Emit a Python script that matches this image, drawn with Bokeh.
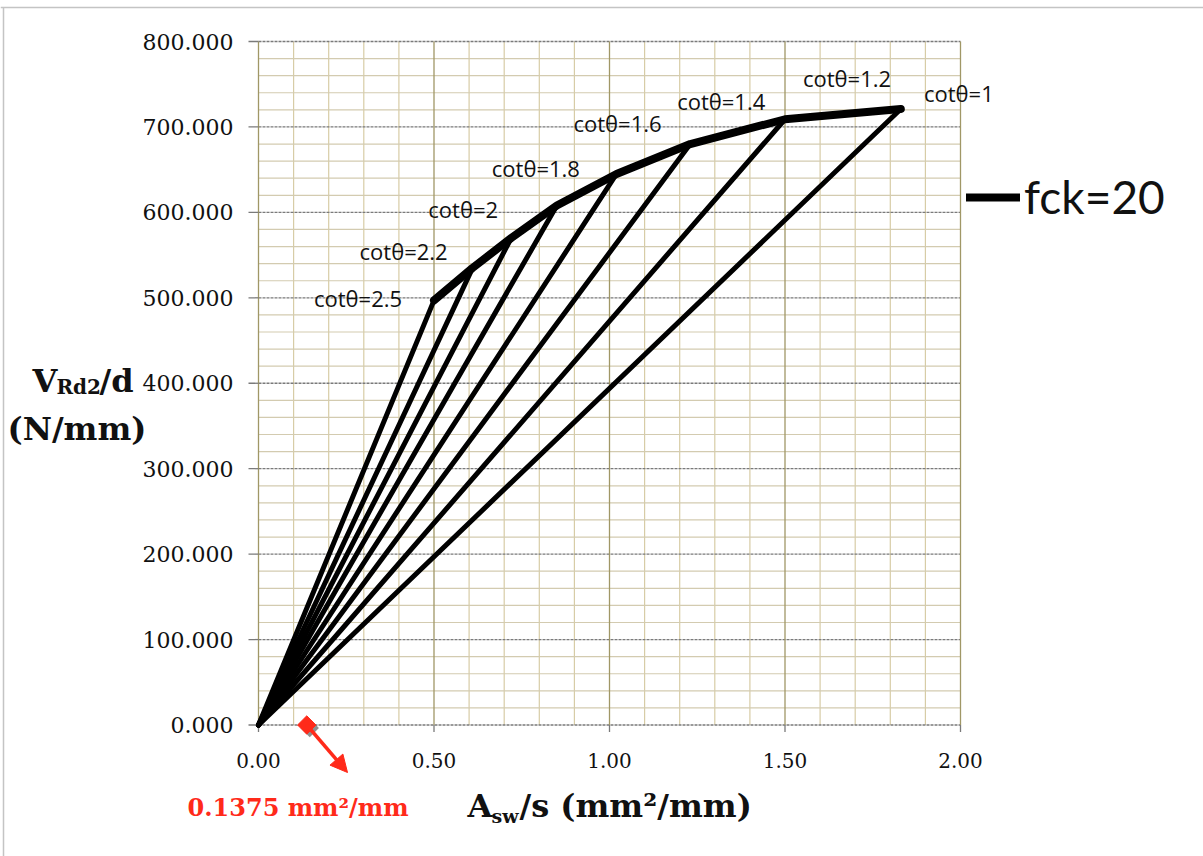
from bokeh.plotting import figure
from bokeh.models import Range1d, Label, Arrow, NormalHead, Legend, LegendItem
from bokeh.core.properties import value
from bokeh.embed import file_html
from bokeh.resources import INLINE

# ---------------- data ----------------
cot_labels = ["cotθ=2.5", "cotθ=2.2", "cotθ=2", "cotθ=1.8",
              "cotθ=1.6", "cotθ=1.4", "cotθ=1.2", "cotθ=1"]
asw_s = [0.50, 0.61, 0.72, 0.85, 1.02, 1.23, 1.50, 1.83]      # mm2/mm
vrd2_d = [497, 535, 570, 608, 645, 680, 709, 721]              # N/mm
series_name = "fck=20"
marker_x = 0.1375
marker_y = 0.0
marker_text = "0.1375 mm²/mm"
x_ticks = [0.0, 0.5, 1.0, 1.5, 2.0]
y_ticks = [0, 100, 200, 300, 400, 500, 600, 700, 800]
x_tick_labels = ["0.00", "0.50", "1.00", "1.50", "2.00"]
y_tick_labels = ["0.000", "100.000", "200.000", "300.000", "400.000",
                 "500.000", "600.000", "700.000", "800.000"]
n_minor = 5

# ---------------- layout (pixel frame of the plot area) ----------------
W, H = 1203, 856
PX0, PX1 = 258, 960        # x = 0 .. 2
PY0, PY1 = 724.5, 41       # y = 0 .. 800
xmin, xmax = x_ticks[0], x_ticks[-1]
ymin, ymax = y_ticks[0], y_ticks[-1]
sx = (PX1 - PX0) / (xmax - xmin)
sy = (PY0 - PY1) / (ymax - ymin)


def dx(px):
    return xmin + (px - PX0) / sx


def dy(py):
    return ymin + (PY0 - py) / sy


label_offsets = [(-76, 2), (-69, 17), (-48, 29), (-21, 38),
                 (1, 51), (31, 43), (62, 41), (58, 16)]

p = figure(width=W, height=H, x_range=Range1d(dx(0), dx(W)), y_range=Range1d(dy(H), dy(0)),
           output_backend="svg", toolbar_location=None,
           x_axis_location=None, y_axis_location=None, min_border=0)
p.grid.visible = False
p.outline_line_color = None
p.background_fill_color = "white"
p.border_fill_color = "white"

# outer frame of the picture (top and left edges)
p.segment(x0=[dx(0)], y0=[dy(7)], x1=[dx(W)], y1=[dy(7)], line_color="#c4c4c4", line_width=1.5)
p.segment(x0=[dx(3)], y0=[dy(7)], x1=[dx(3)], y1=[dy(H)], line_color="#c4c4c4", line_width=1.5)

# minor grid
xstep = (x_ticks[1] - x_ticks[0]) / n_minor
ystep = (y_ticks[1] - y_ticks[0]) / n_minor
x_minor = [xmin + i * xstep for i in range(int(round((xmax - xmin) / xstep)) + 1) if i % n_minor]
y_minor = [ymin + i * ystep for i in range(int(round((ymax - ymin) / ystep)) + 1) if i % n_minor]
p.segment(x0=x_minor, y0=ymin, x1=x_minor, y1=ymax, line_color="#d7cca6", line_width=1.2)
p.segment(x0=xmin, y0=y_minor, x1=xmax, y1=y_minor, line_color="#d3cbb0", line_width=1.2)
# major grid
p.segment(x0=xmin, y0=y_ticks, x1=xmax, y1=y_ticks, line_color="#7a7a7a", line_width=1.3,
          line_dash="3 1")
p.segment(x0=x_ticks, y0=ymin, x1=x_ticks, y1=ymax, line_color="#a09766", line_width=1.3)
# tick marks
p.segment(x0=dx(PX0 - 10), y0=y_ticks, x1=xmin, y1=y_ticks, line_color="#7a7a7a", line_width=1.3)
p.segment(x0=x_ticks, y0=ymin, x1=x_ticks, y1=dy(PY0 + 7), line_color="#7a7a7a", line_width=1.3)

# tick labels
p.text(x=dx(PX0 - 25), y=y_ticks, text=y_tick_labels, text_align="right", text_baseline="middle",
       text_font=value("DejaVu Serif"), text_font_size="22px", text_color="#111111")
p.text(x=x_ticks, y=dy(PY0 + 35), text=x_tick_labels, text_align="center", text_baseline="middle",
       text_font=value("DejaVu Serif"), text_font_size="20px", text_color="#111111")

# radial lines from origin to each cot point, and the envelope
xs = [[0, x] for x in asw_s]
ys = [[0, y] for y in vrd2_d]
p.multi_line(xs, ys, line_color="black", line_width=5, line_cap="round", line_join="round")
curve = p.line(asw_s, vrd2_d, line_color="black", line_width=8, line_cap="round", line_join="round")

for lab, x, y, (ox, oy) in zip(cot_labels, asw_s, vrd2_d, label_offsets):
    p.add_layout(Label(x=x, y=y, text=lab, x_offset=ox, y_offset=oy, text_align="center",
                       text_baseline="middle", text_font="Open Sans", text_font_size="22px",
                       text_color="#111111"))

# legend
legend = Legend(items=[LegendItem(label=series_name, renderers=[curve])],
                location=(966, 856 - 224), padding=0, margin=0, glyph_width=54, glyph_height=40,
                label_standoff=4, border_line_color=None, background_fill_alpha=0,
                label_text_font="Lato", label_text_font_size="46px", label_text_color="#111111")
p.add_layout(legend, "center")

# axis titles
bold = "DejaVu Serif"
ink = "#111111"
p.add_layout(Label(x=dx(32), y=dy(380), text="V", text_font=bold, text_font_style="bold",
                   text_font_size="32px", text_baseline="alphabetic", text_color=ink))
p.add_layout(Label(x=dx(56), y=dy(386), text="Rd2", text_font=bold, text_font_style="bold",
                   text_font_size="20px", text_baseline="alphabetic", text_color=ink))
p.add_layout(Label(x=dx(99), y=dy(380), text="/d", text_font=bold, text_font_style="bold",
                   text_font_size="32px", text_baseline="alphabetic", text_color=ink))
p.add_layout(Label(x=dx(7), y=dy(428), text="(N/mm)", text_font=bold, text_font_style="bold",
                   text_font_size="32px", text_baseline="alphabetic", text_color=ink))

p.add_layout(Label(x=dx(467), y=dy(805), text="A", text_font=bold, text_font_style="bold",
                   text_font_size="32px", text_baseline="alphabetic", text_color=ink))
p.add_layout(Label(x=dx(491), y=dy(815), text="sw", text_font=bold, text_font_style="bold",
                   text_font_size="19px", text_baseline="alphabetic", text_color=ink))
p.add_layout(Label(x=dx(519), y=dy(805), text="/s (mm²/mm)", text_font=bold, text_font_style="bold",
                   text_font_size="32px", text_baseline="alphabetic", text_color=ink))

# red marker, arrow and note
red = "#ff2a1a"
p.add_layout(Arrow(x_start=marker_x, y_start=marker_y, x_end=dx(347), y_end=dy(772),
                   line_color=red, line_width=3.5,
                   end=NormalHead(size=17, fill_color=red, line_color=red)))
p.scatter([marker_x + 3 / sx], [marker_y - 3 / sy], marker="square", angle=0.785, size=13,
          fill_color="#333333", line_color=None, fill_alpha=0.55)
p.scatter([marker_x], [marker_y], marker="square", angle=0.785, size=13, fill_color=red,
          line_color=red)
p.add_layout(Label(x=dx(187), y=dy(807), text=marker_text, text_font=bold, text_font_style="bold",
                   text_font_size="24px", text_color=red, text_baseline="alphabetic"))

open("out.html", "w").write(file_html(p, INLINE))
